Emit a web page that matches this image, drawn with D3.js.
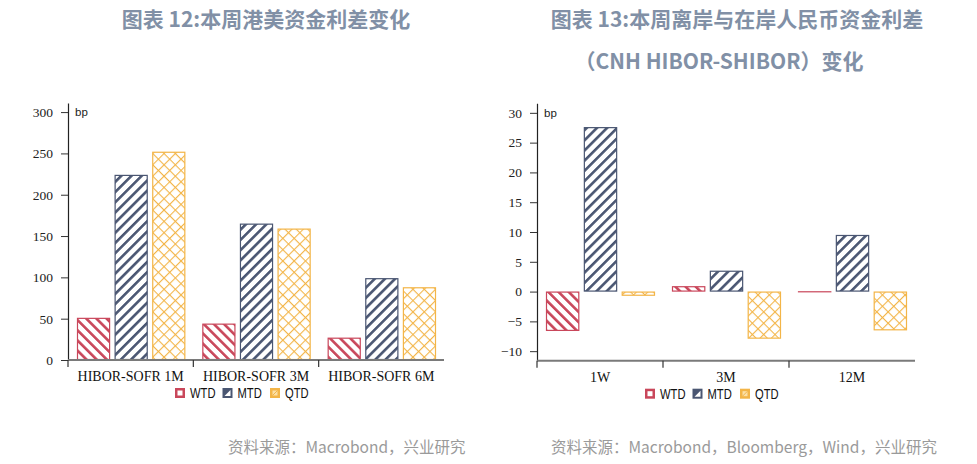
<!DOCTYPE html>
<html><head><meta charset="utf-8">
<script src="https://cdn.jsdelivr.net/npm/d3@7"></script>
<style>
body{margin:0;background:#fff;}
svg{display:block;}
</style></head>
<body>
<svg id="c" width="977" height="464"></svg>
<script>
// ---------- data ----------
const seriesNames = ["WTD", "MTD", "QTD"];
const leftCategories = ["HIBOR-SOFR 1M", "HIBOR-SOFR 3M", "HIBOR-SOFR 6M"];
const leftWTD = [51, 44, 27];
const leftMTD = [224, 165, 99];
const leftQTD = [252, 159, 88];
const leftTicks = [0, 50, 100, 150, 200, 250, 300];

const rightCategories = ["1W", "3M", "12M"];
const rightWTD = [-6.6, 0.9, 0.05];
const rightMTD = [27.6, 3.5, 9.5];
const rightQTD = [-0.7, -7.9, -6.5];
const rightTicks = [-10, -5, 0, 5, 10, 15, 20, 25, 30];

const leftTitle = ["图表 12:本周港美资金利差变化"];
const rightTitle = ["图表 13:本周离岸与在岸人民币资金利差", "（CNH HIBOR-SHIBOR）变化"];
const leftSource = "资料来源：Macrobond，兴业研究";
const rightSource = "资料来源：Macrobond，Bloomberg，Wind，兴业研究";
const unitLabel = "bp";

// ---------- styles ----------
const colors = {WTD: "#c9475b", MTD: "#4a5672", QTD: "#f3b548"};
const serif = "'Liberation Serif','Times New Roman',serif";
const narrow = "'Liberation Sans Narrow','Arial Narrow','Liberation Sans',sans-serif";
const cjk = "'Noto Sans CJK SC','Noto Sans',sans-serif";

const svg = d3.select("#c");
const defs = svg.append("defs");

// stripes "\" for WTD
const pW = defs.append("pattern").attr("id", "pWTD").attr("patternUnits", "userSpaceOnUse")
  .attr("width", 7.2).attr("height", 7.2).attr("patternTransform", "rotate(-45)");
pW.append("rect").attr("width", 7.2).attr("height", 7.2).attr("fill", "#fff");
pW.append("rect").attr("x", 0).attr("width", 2.6).attr("height", 7.2).attr("fill", colors.WTD);
// stripes "/" for MTD
const pM = defs.append("pattern").attr("id", "pMTD").attr("patternUnits", "userSpaceOnUse")
  .attr("width", 7.2).attr("height", 7.2).attr("patternTransform", "rotate(45)");
pM.append("rect").attr("width", 7.2).attr("height", 7.2).attr("fill", "#fff");
pM.append("rect").attr("x", 0).attr("width", 2.6).attr("height", 7.2).attr("fill", colors.MTD);
// crosshatch for QTD
const pQ = defs.append("pattern").attr("id", "pQTD").attr("patternUnits", "userSpaceOnUse")
  .attr("width", 8).attr("height", 8).attr("patternTransform", "rotate(45)");
pQ.append("rect").attr("width", 8).attr("height", 8).attr("fill", "#fff");
pQ.append("rect").attr("x", 0).attr("width", 1.1).attr("height", 8).attr("fill", colors.QTD);
pQ.append("rect").attr("y", 0).attr("width", 8).attr("height", 1.1).attr("fill", colors.QTD);

function drawChart(cfg) {
  const g = svg.append("g");
  const x = d3.scaleBand().domain(cfg.categories).range([cfg.x0, cfg.x1]).paddingInner(0).paddingOuter(0);
  const xs = d3.scaleBand().domain(seriesNames).range([9, x.bandwidth() - 8]).paddingInner(0.12);
  const y = d3.scaleLinear().domain(cfg.domain).range([cfg.yBottom, cfg.yTop]);

  // bars
  const rows = [];
  cfg.categories.forEach((c, i) => {
    seriesNames.forEach(s => rows.push({c, s, v: cfg.values[s][i]}));
  });
  g.selectAll("rect.bar").data(rows).join("rect").attr("class", "bar")
    .attr("x", d => x(d.c) + xs(d.s) + 0.5)
    .attr("width", xs.bandwidth() - 1)
    .attr("y", d => Math.min(y(d.v), y(0)) + 0.5)
    .attr("height", d => Math.max(Math.abs(y(d.v) - y(0)) - 1, 0.01))
    .attr("fill", d => "url(#p" + d.s + ")")
    .attr("stroke", d => colors[d.s]).attr("stroke-width", 1.2);

  // y axis
  const ya = g.append("g").attr("transform", `translate(${cfg.x0},0)`)
    .call(d3.axisLeft(y).tickValues(cfg.ticks).tickSize(7).tickPadding(8).tickSizeOuter(0));
  ya.select(".domain").attr("stroke", "#222").attr("stroke-width", 1.2);
  ya.selectAll(".tick line").attr("stroke", "#333");
  ya.selectAll(".tick text").attr("font-family", serif).attr("font-size", 13.5).attr("fill", "#222");

  // unit label
  g.append("text").attr("x", cfg.x0 + 7).attr("y", y(cfg.ticks[cfg.ticks.length - 1]) + 4)
    .attr("font-family", "'Liberation Sans',Arial,sans-serif").attr("font-size", 11.5).attr("fill", "#222")
    .text(unitLabel);

  // x axis
  g.append("line").attr("x1", cfg.x0).attr("x2", cfg.x1).attr("y1", cfg.yBottom).attr("y2", cfg.yBottom)
    .attr("stroke", "#7a7a7a").attr("stroke-width", 2);
  g.selectAll("line.sep").data(cfg.categories).join("line").attr("class", "sep")
    .attr("x1", d => x(d)).attr("x2", d => x(d))
    .attr("y1", cfg.yBottom).attr("y2", cfg.yBottom + 7)
    .attr("stroke", "#333").attr("stroke-width", 1.2);
  g.selectAll("text.cat").data(cfg.categories).join("text").attr("class", "cat")
    .attr("x", d => x(d) + x.bandwidth() / 2).attr("y", cfg.yBottom + 21)
    .attr("text-anchor", "middle").attr("font-family", serif).attr("font-size", 14).attr("fill", "#111")
    .text(d => d);

  // legend
  const lx = (cfg.x0 + cfg.x1) / 2 - 81;
  const ly = cfg.yBottom + 33;
  seriesNames.forEach((s, i) => {
    const gx = lx + i * 47.5;
    const lg = g.append("g").attr("transform", `translate(${gx},${ly})`);
    lg.append("rect").attr("x", 0).attr("y", -5).attr("width", 10).attr("height", 10).attr("fill", colors[s]);
    if (s === "WTD") {
      lg.append("rect").attr("x", 2.5).attr("y", -2.5).attr("width", 5).attr("height", 5).attr("fill", "#fff");
    } else if (s === "MTD") {
      lg.append("polygon").attr("points", "2,3 8,-3 8,3").attr("fill", "#fff");
    } else {
      lg.append("rect").attr("x", 2.5).attr("y", -2.5).attr("width", 5).attr("height", 5).attr("fill", "#fbe0a8");
      lg.append("line").attr("x1", 2.5).attr("y1", 2.5).attr("x2", 7.5).attr("y2", -2.5).attr("stroke", colors[s]).attr("stroke-width", 1);
    }
    lg.append("text").attr("transform", "translate(15,5) scale(0.8,1)")
      .attr("font-family", narrow).attr("font-size", 14).attr("fill", "#111").text(s);
  });

  // title
  cfg.title.forEach((t, i) => {
    svg.append("text").attr("x", cfg.titleX[i]).attr("y", cfg.titleY[i])
      .attr("text-anchor", "middle").attr("font-family", cjk).attr("font-weight", 700)
      .attr("font-size", 21).attr("fill", "#8190a6").text(t);
  });
  // source
  svg.append("text").attr("x", cfg.sourceX).attr("y", 453)
    .attr("font-family", cjk).attr("font-size", 15.5).attr("fill", "#9a9a9a").text(cfg.source);
}

drawChart({
  categories: leftCategories,
  values: {WTD: leftWTD, MTD: leftMTD, QTD: leftQTD},
  ticks: leftTicks,
  domain: [0, 311],
  x0: 68, x1: 444, yTop: 103, yBottom: 360,
  title: leftTitle, titleX: [266], titleY: [27],
  source: leftSource, sourceX: 228
});
drawChart({
  categories: rightCategories,
  values: {WTD: rightWTD, MTD: rightMTD, QTD: rightQTD},
  ticks: rightTicks,
  domain: [-11.6, 31.6],
  x0: 537, x1: 915, yTop: 103.3, yBottom: 360.7,
  title: rightTitle, titleX: [737, 719], titleY: [27, 69],
  source: rightSource, sourceX: 551
});
</script>
</body></html>
